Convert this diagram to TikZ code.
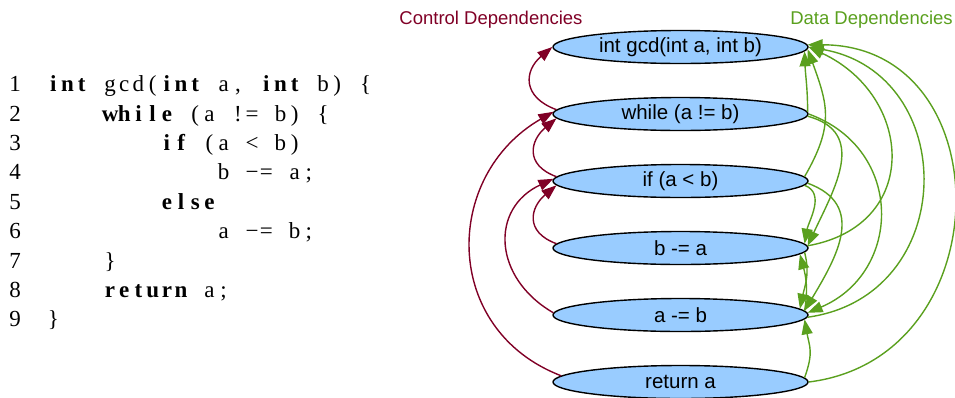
\documentclass[tikz,border=0pt]{standalone}
\usepackage{fontspec}
\setmainfont{Liberation Serif}
\newfontfamily\sansf{Liberation Sans}
\usetikzlibrary{shapes.geometric,arrows.meta}

\definecolor{nodeblue}{RGB}{153,204,255}
\definecolor{ctrlred}{RGB}{128,0,38}
\definecolor{datagreen}{RGB}{90,160,30}

% fixed-width columns for the source listing
\ExplSyntaxOn
\dim_new:N \l_codecol_dim
\dim_set:Nn \l_codecol_dim {14.2pt}
\cs_new_protected:Npn \codecols:n #1
  { \tl_map_inline:nn {#1} { \makebox[\l_codecol_dim][c]{##1} } }
\NewDocumentCommand\cols{m}{\codecols:n{#1}}
\NewDocumentCommand\kw{m}{{\bfseries\codecols:n{#1}}}
\ExplSyntaxOff

\newcommand\codefont{\fontsize{23}{26}\selectfont}
\newcommand\nodefont{\sansf\fontsize{20.5}{24}\selectfont}
\newcommand\lblfont{\sansf\fontsize{18.5}{22}\selectfont}

\tikzset{
  x=1pt, y=1pt,
  codeline/.style={anchor=base west, inner sep=0pt, font=\codefont},
  lineno/.style={anchor=base east, inner sep=0pt, font=\codefont},
  pdg/.style={ellipse, draw=black, line width=1.4pt, fill=nodeblue,
    minimum width=255pt, minimum height=33pt, inner sep=0pt, font=\nodefont},
  tip/.style={-{Triangle[length=15pt,width=11pt]}},
  ctrl/.style={tip, draw=ctrlred, fill=none, line width=1.4pt},
  data/.style={tip, draw=datagreen, fill=none, line width=1.4pt},
  legend/.style={inner sep=0pt, font=\lblfont}
}

\begin{document}
\begin{tikzpicture}
\useasboundingbox (0,0) rectangle (955,-397);

% ---- source listing ----
\foreach \k in {1,...,9} {
  \node[lineno] (l\k) at (21,{-91.8-(\k-1)*29.375}) {\k};
}
\node[codeline] (c1) at (46,-91.8)
  {\kw{int}\cols{~gcd(}\kw{int}\cols{~a,~}\kw{int}\cols{~b)~\{}};
\node[codeline] (c2) at (46,-121.2)
  {\cols{~~~~}\kw{while}\cols{~(a~!=~b)~\{}};
\node[codeline] (c3) at (46,-150.6)
  {\cols{~~~~~~~~}\kw{if}\cols{~(a~<~b)}};
\node[codeline] (c4) at (46,-179.9)
  {\cols{~~~~~~~~~~~~b~−=~a;}};
\node[codeline] (c5) at (46,-209.3)
  {\cols{~~~~~~~~}\kw{else}};
\node[codeline] (c6) at (46,-238.7)
  {\cols{~~~~~~~~~~~~a~−=~b;}};
\node[codeline] (c7) at (46,-268.1)
  {\cols{~~~~\}}};
\node[codeline] (c8) at (46,-297.4)
  {\cols{~~~~}\kw{return}\cols{~a;}};
\node[codeline] (c9) at (46,-326.8)
  {\cols{\}}};

% ---- dependence graph ----
\node[pdg] (n1) at (680.5,-47)  {int gcd(int a, int b)};
\node[pdg] (n2) at (680.5,-114) {while (a != b)};
\node[pdg] (n3) at (680.5,-181) {if (a < b)};
\node[pdg] (n4) at (680.5,-248) {b -= a};
\node[pdg] (n5) at (680.5,-315) {a -= b};
\node[pdg] (n6) at (680.5,-382) {return a};

\node[legend, text=ctrlred]   (lc) at (491,-20)   {Control Dependencies};
\node[legend, text=datagreen] (ld) at (871.5,-20) {Data Dependencies};

% control dependences (left side)
\draw[ctrl] (n2.178) to[out=160,in=220,looseness=1.5] (n1.west);
\draw[ctrl] (n3.178) to[out=160,in=220,looseness=1.5] (n2.182.5);
\draw[ctrl] (n4.178) to[out=160,in=220,looseness=1.5] (n3.182.5);
\draw[ctrl] (n5.179) to[out=150,in=205,looseness=1.34] (n3.179.5);
\draw[ctrl] (n6.177) to[out=159,in=210,looseness=1.24] (n2.179);

% data dependences (right side)
\draw[data] (n2.1.5)  to[out=90,in=-88] (n1.-2.1);
\draw[data] (n3.2.1)  to[out=60,in=-70,looseness=1.19] (n1.-1.3);
\draw[data] (n4.1)    to[out=10,in=-25,looseness=1.49] (n1.-0.5);
\draw[data] (n5.-1.4) to[out=8,in=-10,looseness=1.455] (n1.0.5);
\draw[data] (n6.-0.5) to[out=7,in=0,looseness=1.48] (n1.1.5);
\draw[data] (n2.-1.4) to[out=-15,in=65,looseness=1.24] (n4.1.5);
\draw[data] (n3.-2)   to[out=-20,in=80] (n4.2.5);
\draw[data] (n5.2)    to[out=80,in=-75] (n4.-3);
\draw[data] (n2.0)    to[out=-20,in=23,looseness=1.32] (n5.1.4);
\draw[data] (n3.-1.4) to[out=-20,in=59,looseness=1.26] (n5.2.2);
\draw[data] (n4.-2)   to[out=-75,in=78] (n5.3);
\draw[data] (n6.2.4)  to[out=70,in=-80,looseness=1.2] (n5.-2.9);
\end{tikzpicture}
\end{document}
